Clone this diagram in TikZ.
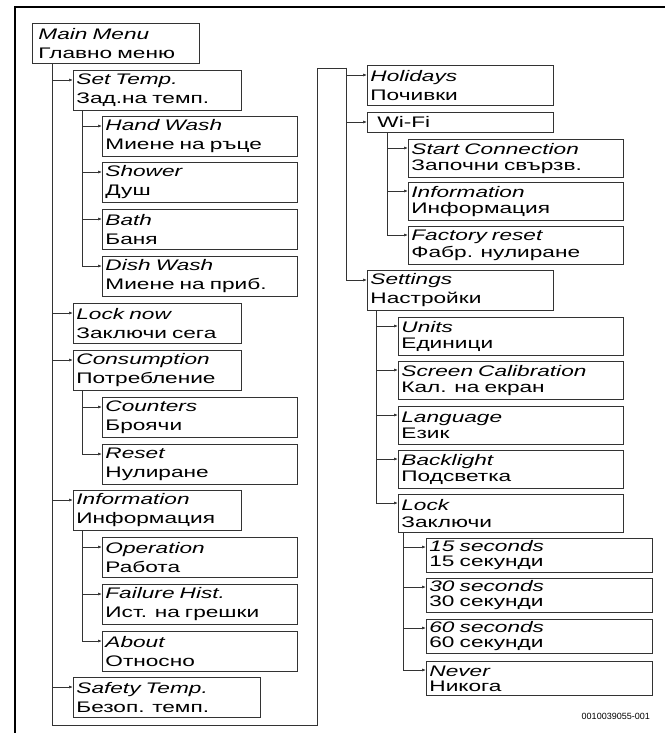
\documentclass[tikz,border=0pt]{standalone}
\usepackage{fontspec}
\setmainfont{Liberation Sans}[FakeStretch=1.48]
\newfontfamily\codefont{Liberation Sans}
\usetikzlibrary{arrows.meta}

\newcommand{\mitem}[2]{\textit{#1}\\#2}

\tikzset{
  menu/.style={draw=black!80, line width=0.8pt, anchor=north west, align=left,
    inner xsep=3pt, inner ysep=0pt, minimum height=40pt,
    font=\fontsize{15.3}{19}\selectfont},
  colA/.style={menu, text width=162pt},
  colB/.style={menu, text width=189pt},
  colR/.style={menu, text width=180pt},
  colW/.style={menu, text width=209pt, minimum height=38pt, font=\fontsize{15.3}{16.5}\selectfont},
  colS/.style={menu, text width=219pt, minimum height=38pt, font=\fontsize{15.3}{16.5}\selectfont},
  colL/.style={menu, text width=220pt, minimum height=34pt, font=\fontsize{15.3}{15}\selectfont},
  link/.style={draw=black!80, line width=0.7pt, -{Latex[length=4pt,width=3pt]}},
  trunk/.style={draw=black!80, line width=0.7pt}
}

\begin{document}
\begin{tikzpicture}[x=1pt,y=-1pt]
\useasboundingbox (0,0) rectangle (665,733);
% outer frame
\draw[line width=2pt] (15,733) -- (15,7) -- (665,7);

% left column
\node (mainmenu) [menu, text width=155pt, inner xsep=6pt] at (32,23) {\mitem{Main Menu}{Главно меню}};
\node (settemp) [colA] at (73,70) {\mitem{Set Temp.}{Зад.на темп.}};
\node (handwash) [colB] at (102,116) {\mitem{Hand Wash}{Миене на ръце}};
\node (shower) [colB] at (102,162) {\mitem{Shower}{Душ}};
\node (bath) [colB] at (102,209) {\mitem{Bath}{Баня}};
\node (dishwash) [colB] at (102,256) {\mitem{Dish Wash}{Миене на приб.}};
\node (locknow) [colA] at (73,303) {\mitem{Lock now}{Заключи сега}};
\node (consumption) [colA] at (73,350) {\mitem{Consumption}{Потребление}};
\node (counters) [colB] at (102,397) {\mitem{Counters}{Броячи}};
\node (reset) [colB] at (102,444) {\mitem{Reset}{Нулиране}};
\node (information) [colA] at (73,490) {\mitem{Information}{Информация}};
\node (operation) [colB] at (102,537) {\mitem{Operation}{Работа}};
\node (failure) [colB] at (102,584) {\mitem{Failure Hist.}{Ист. на грешки}};
\node (about) [colB] at (102,631) {\mitem{About}{Относно}};
\node (safety) [menu, text width=181pt] at (73,677) {\mitem{Safety Temp.}{Безоп. темп.}};

% right column
\node (holidays) [colR] at (367,65) {\mitem{Holidays}{Почивки}};
\node (wifi) [colR, minimum height=20pt] at (367,112) {\hspace*{7pt}Wi-Fi};
\node (startconn) [colW] at (408,139) {\mitem{Start Connection}{Започни свързв.}};
\node (wifiinfo) [colW] at (408,182) {\mitem{Information}{Информация}};
\node (factory) [colW] at (408,226) {\mitem{Factory reset}{Фабр. нулиране}};
\node (settings) [colR] at (367,270) {\mitem{Settings}{Настройки}};
\node (units) [colS] at (398,317) {\mitem{Units}{Единици}};
\node (screencal) [colS] at (398,361) {\mitem{Screen Calibration}{Кал. на екран}};
\node (language) [colS] at (398,406) {\mitem{Language}{Език}};
\node (backlight) [colS] at (398,450) {\mitem{Backlight}{Подсветка}};
\node (lock) [colS] at (398,494) {\mitem{Lock}{Заключи}};
\node (sec15) [colL] at (426,538) {\mitem{15 seconds}{15 секунди}};
\node (sec30) [colL] at (426,578) {\mitem{30 seconds}{30 секунди}};
\node (sec60) [colL] at (426,619) {\mitem{60 seconds}{60 секунди}};
\node (never) [colL] at (426,661) {\mitem{Never}{Никога}};

\node (code) [anchor=east, font=\codefont\fontsize{9}{10}\selectfont, inner sep=0pt] at (650,716) {0010039055-001};

% connectors
\coordinate (bottom) at (52,725);
\coordinate (jump) at (317,68);
\coordinate (rtrunk) at (346,68);
\draw[trunk] ([xshift=20pt]mainmenu.south west) -- (bottom) -| (jump) -- (rtrunk);
\foreach \c in {settemp,locknow,consumption,information,safety}
  \draw[link] ([xshift=20pt]mainmenu.south west) |- ([yshift=-10pt]\c.north west);
\foreach \c in {handwash,shower,bath,dishwash}
  \draw[link] ([xshift=9pt]settemp.south west) |- ([yshift=-10pt]\c.north west);
\foreach \c in {counters,reset}
  \draw[link] ([xshift=9pt]consumption.south west) |- ([yshift=-10pt]\c.north west);
\foreach \c in {operation,failure,about}
  \draw[link] ([xshift=9pt]information.south west) |- ([yshift=-10pt]\c.north west);
\foreach \c in {holidays,wifi,settings}
  \draw[link] (rtrunk) |- ([yshift=-10pt]\c.north west);
\foreach \c in {startconn,wifiinfo,factory}
  \draw[link] ([xshift=20pt]wifi.south west) |- ([yshift=-9pt]\c.north west);
\foreach \c in {units,screencal,language,backlight,lock}
  \draw[link] ([xshift=9pt]settings.south west) |- ([yshift=-9pt]\c.north west);
\foreach \c in {sec15,sec30,sec60,never}
  \draw[link] ([xshift=5pt]lock.south west) |- ([yshift=-9pt]\c.north west);
\end{tikzpicture}
\end{document}
